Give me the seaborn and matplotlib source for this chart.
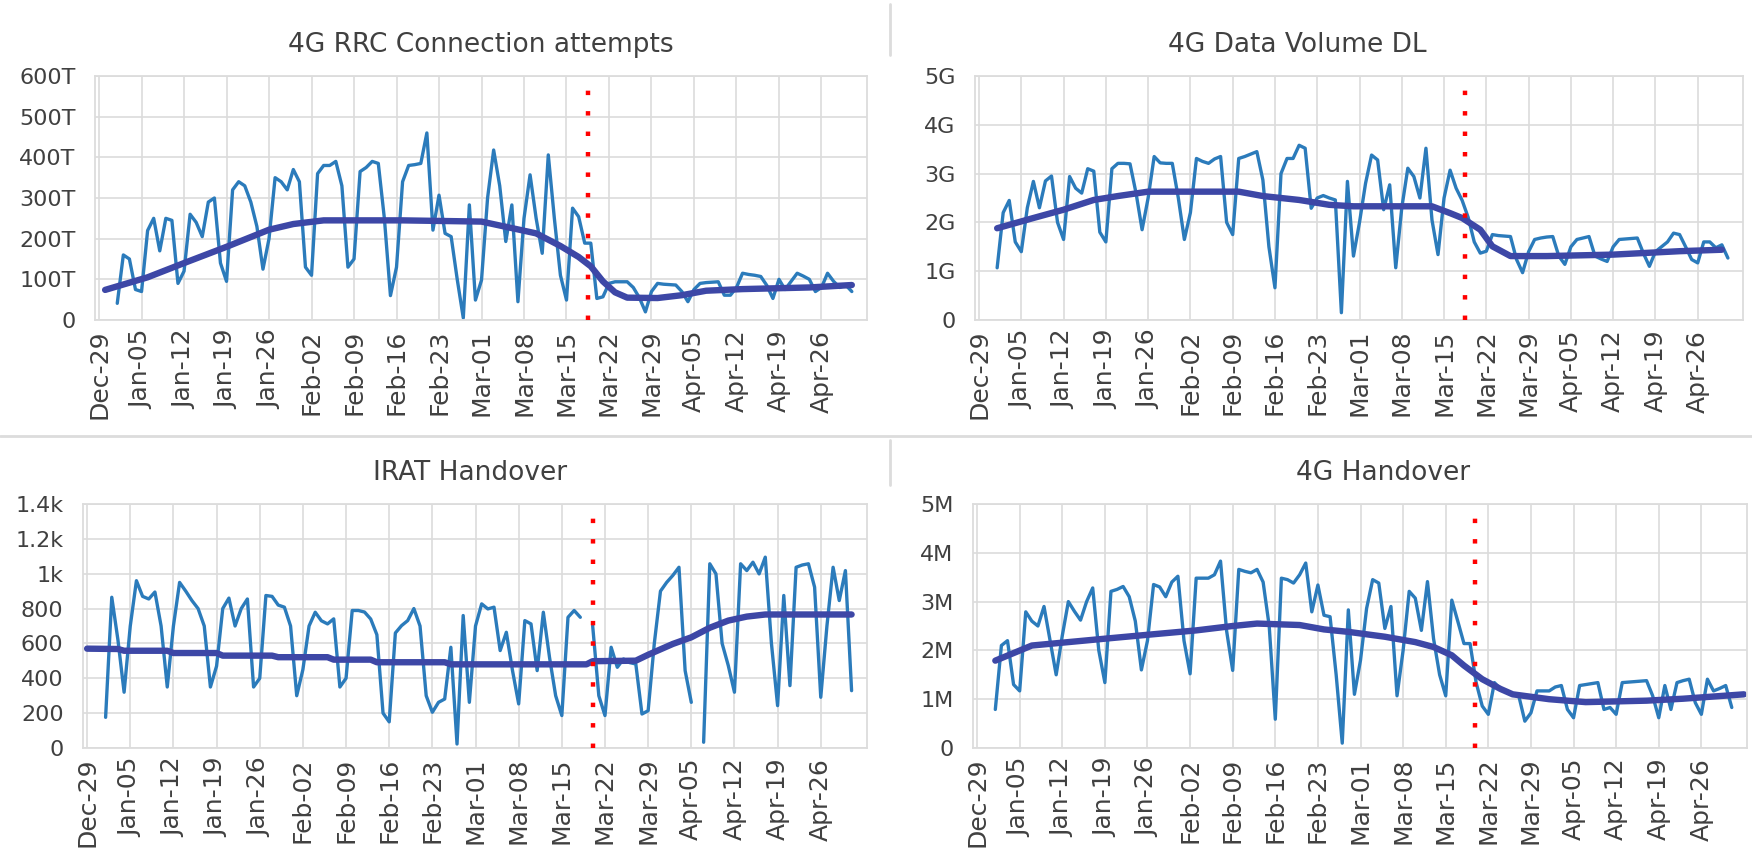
import numpy as np
import pandas as pd
import matplotlib
matplotlib.use("Agg")
import matplotlib.pyplot as plt
import seaborn as sns
from matplotlib.lines import Line2D

nan = np.nan

# x axis: weekly ticks from Dec-29, daily data from Jan-01
axis_start = pd.Timestamp("2019-12-29")
first_day = pd.Timestamp("2020-01-01")
week_ticks = pd.date_range("2019-12-29", "2020-04-26", freq="7D")

# ---- 4G RRC Connection attempts (thousands), daily ----
rrc_daily = [
    41, 160, 150, 75,
    70, 220, 250, 170, 250, 245, 90,
    120, 260, 240, 205, 290, 300, 140,
    95, 320, 340, 330, 290, 230, 125,
    200, 350, 340, 320, 370, 340, 130,
    110, 360, 380, 380, 390, 330, 130,
    150, 365, 375, 390, 385, 250, 60,
    130, 340, 380, 382, 385, 460, 221,
    307, 213, 205, 100, 5, 283, 49,
    98, 300, 418, 330, 193, 283, 45,
    250, 357, 250, 164, 406, 250, 110,
    49, 275, 254, 189, 189, 53, 57,
    90, 94, 94, 94, 80, 55, 20,
    70, 90, 88, 87, 86, 70, 45,
    75, 90, 92, 93, 94, 61, 61,
    80, 115, 112, 110, 107, 85, 53,
    100, 75, 95, 115, 108, 100, 70,
    80, 115, 95, 80, 86, 70,
]
rrc_trend_day = [1, 8, 14, 21, 28, 32, 37, 50, 63, 68, 72, 76, 79, 81, 83, 85, 87, 92, 96, 100, 106, 117, 124]
rrc_trend = [74, 105, 140, 180, 222, 236, 245, 245, 242, 226, 213, 182, 155, 132, 95, 68, 55, 54, 61, 72, 76, 80, 86]

# ---- 4G Data Volume DL (G), daily ----
dv_daily = [
    1.07, 2.2, 2.45, 1.6,
    1.4, 2.3, 2.84, 2.3, 2.85, 2.95, 2.0,
    1.65, 2.94, 2.7, 2.6, 3.1, 3.05, 1.8,
    1.6, 3.1, 3.21, 3.21, 3.2, 2.6, 1.85,
    2.5, 3.35, 3.22, 3.21, 3.21, 2.5, 1.65,
    2.2, 3.31, 3.25, 3.21, 3.3, 3.35, 2.0,
    1.75, 3.31, 3.35, 3.4, 3.45, 2.87, 1.5,
    0.66, 3.0, 3.31, 3.31, 3.58, 3.52, 2.29,
    2.5, 2.55, 2.5, 2.46, 0.15, 2.84, 1.31,
    2.0, 2.8, 3.38, 3.28, 2.26, 2.77, 1.07,
    2.3, 3.11, 2.94, 2.5, 3.52, 2.05, 1.34,
    2.5, 3.07, 2.7, 2.45, 2.1, 1.6, 1.37,
    1.41, 1.75, 1.73, 1.72, 1.71, 1.24, 0.97,
    1.4, 1.65, 1.68, 1.7, 1.71, 1.31, 1.14,
    1.5, 1.65, 1.68, 1.71, 1.31, 1.25, 1.2,
    1.5, 1.65, 1.66, 1.67, 1.68, 1.37, 1.1,
    1.4, 1.5, 1.6, 1.78, 1.75, 1.5, 1.24,
    1.17, 1.6, 1.6, 1.48, 1.54, 1.27,
]
dv_trend_day = [3, 9, 14, 19, 23, 28, 43, 47, 53, 58, 62, 75, 78, 80, 83, 85, 88, 94, 105, 116, 123]
dv_trend = [1.88, 2.09, 2.26, 2.46, 2.54, 2.63, 2.63, 2.54, 2.46, 2.36, 2.33, 2.33, 2.19, 2.09, 1.85, 1.51, 1.31, 1.31, 1.34, 1.41, 1.44]

# ---- IRAT Handover, daily (gaps = missing days) ----
irat_daily = [
    176, 865, 620, 320,
    700, 960, 870, 855, 895, 700, 350,
    700, 950, 900, 846, 800, 700, 350,
    470, 800, 860, 700, 800, 855, 350,
    400, 875, 870, 820, 808, 700, 300,
    450, 700, 779, 730, 712, 741, 350,
    400, 789, 789, 780, 740, 650, 200,
    150, 660, 702, 731, 800, 700, 300,
    205, 262, 281, 578, 23, 760, 262,
    700, 827, 798, 808, 559, 664, 444,
    253, 731, 712, 444, 779, 521, 300,
    186, 750, 789, 750, nan, 702, 300,
    186, 578, 463, 511, 490, 482, 195,
    214, 600, 900, 950, 990, 1037, 444,
    262, nan, 33, 1057, 999, 600, 473,
    320, 1057, 1018, 1066, 999, 1095, 600,
    243, 875, 358, 1037, 1050, 1057, 923,
    291, 700, 1037, 846, 1018, 329,
]
irat_trend_day = [0, 5, 6, 13, 14, 21, 22, 30, 31, 39, 40, 46, 47, 58, 59, 81, 82, 89, 91, 95, 98, 101, 104, 107, 110, 124]
irat_trend = [570, 568, 558, 558, 545, 545, 530, 530, 521, 521, 507, 507, 492, 492, 480, 480, 498, 501, 535, 597, 635, 690, 731, 754, 766, 766]

# ---- 4G Handover (M), daily ----
ho_daily = [
    0.79, 2.1, 2.2, 1.3,
    1.17, 2.79, 2.6, 2.5, 2.9, 2.2, 1.5,
    2.3, 3.0, 2.8, 2.62, 3.0, 3.28, 2.0,
    1.34, 3.21, 3.25, 3.31, 3.1, 2.6, 1.6,
    2.2, 3.35, 3.3, 3.1, 3.4, 3.52, 2.2,
    1.52, 3.48, 3.48, 3.48, 3.55, 3.83, 2.4,
    1.59, 3.66, 3.62, 3.59, 3.66, 3.4, 2.5,
    0.59, 3.48, 3.45, 3.38, 3.55, 3.79, 2.79,
    3.34, 2.72, 2.69, 1.5, 0.1, 2.83, 1.1,
    1.8, 2.86, 3.45, 3.38, 2.45, 2.9, 1.07,
    2.0, 3.21, 3.07, 2.41, 3.41, 2.24, 1.5,
    1.07, 3.03, 2.59, 2.14, 2.14, 1.34, 0.86,
    0.69, 1.34, 1.21, 1.15, 1.1, 1.07, 0.55,
    0.72, 1.17, 1.17, 1.17, 1.25, 1.28, 0.79,
    0.62, 1.28, 1.3, 1.32, 1.34, 0.79, 0.83,
    0.69, 1.34, 1.35, 1.36, 1.37, 1.38, 1.07,
    0.62, 1.28, 0.79, 1.34, 1.38, 1.41, 0.93,
    0.69, 1.41, 1.17, 1.22, 1.28, 0.83,
]
ho_trend_day = [3, 9, 15, 21, 28, 36, 42, 46, 53, 57, 61, 67, 72, 75, 78, 80, 83, 86, 88, 94, 100, 110, 116, 126]
ho_trend = [1.79, 2.10, 2.17, 2.24, 2.32, 2.41, 2.50, 2.55, 2.52, 2.43, 2.38, 2.28, 2.17, 2.07, 1.90, 1.69, 1.41, 1.21, 1.10, 1.00, 0.94, 0.97, 1.01, 1.10]

titles = ["4G RRC Connection attempts", "4G Data Volume DL", "IRAT Handover", "4G Handover"]
ytick_vals = [
    [0, 100, 200, 300, 400, 500, 600],
    [0, 1, 2, 3, 4, 5],
    [0, 200, 400, 600, 800, 1000, 1200, 1400],
    [0, 1, 2, 3, 4, 5],
]
ytick_labels = [
    ["0", "100T", "200T", "300T", "400T", "500T", "600T"],
    ["0", "1G", "2G", "3G", "4G", "5G"],
    ["0", "200", "400", "600", "800", "1k", "1.2k", "1.4k"],
    ["0", "1M", "2M", "3M", "4M", "5M"],
]
event_dates = ["2020-03-18 12:00", "2020-03-18 12:00", "2020-03-20 00:00", "2020-03-19 18:00"]

daily_sets = [rrc_daily, dv_daily, irat_daily, ho_daily]
trend_days = [rrc_trend_day, dv_trend_day, irat_trend_day, ho_trend_day]
trend_sets = [rrc_trend, dv_trend, irat_trend, ho_trend]

# layout (figure fractions) and title placement
W, H = 1752, 852
boxes_px = [(95, 76, 867, 320), (975, 76, 1743, 320), (83, 504, 867, 748), (973, 504, 1747, 748)]
title_x = [0.5, 0.42, 0.494, 0.53]

LIGHT = "#2b7bbb"
DARK = "#3d47a6"
GRID = "#dcdcdc"
TEXT = "#404040"

sns.set_theme(style="whitegrid")
plt.rcParams["font.family"] = ["DejaVu Sans"]

fig = plt.figure(figsize=(W / 100, H / 100), dpi=100)
fig.patch.set_facecolor("white")

for i in range(4):
    x0, y0, x1, y1 = boxes_px[i]
    ax = fig.add_axes([x0 / W, 1 - y1 / H, (x1 - x0) / W, (y1 - y0) / H])

    vals = daily_sets[i]
    dates = pd.date_range(first_day, periods=len(vals), freq="D")
    df = pd.DataFrame({"date": dates, "value": vals})
    # break the line where a day is missing
    df["seg"] = df["value"].isna().cumsum()
    df = df.dropna()
    sns.lineplot(data=df, x="date", y="value", units="seg", estimator=None,
                 color=LIGHT, linewidth=2.4, ax=ax)

    tr = pd.DataFrame({
        "date": axis_start + pd.to_timedelta(trend_days[i], unit="D"),
        "value": trend_sets[i],
    })
    sns.lineplot(data=tr, x="date", y="value", color=DARK, linewidth=4.6,
                 solid_capstyle="round", ax=ax)

    ax.axvline(pd.Timestamp(event_dates[i]), color="red", linewidth=3.2,
               linestyle=(0, (1, 3.6)), dash_capstyle="butt", zorder=5)

    ax.set_xlim(axis_start - pd.Timedelta(hours=16), axis_start + pd.Timedelta(days=126.5))
    ax.set_ylim(ytick_vals[i][0], ytick_vals[i][-1])
    ax.set_yticks(ytick_vals[i])
    ax.set_yticklabels(ytick_labels[i])
    ax.set_xticks(week_ticks)
    ax.set_xticklabels([d.strftime("%b-%d") for d in week_ticks], rotation=90)

    ax.set_xlabel("")
    ax.set_ylabel("")
    ax.set_facecolor("white")
    ax.grid(True, color=GRID, linewidth=1.2)
    for sp in ax.spines.values():
        sp.set_visible(True)
        sp.set_color(GRID)
        sp.set_linewidth(1.3)
    ax.tick_params(axis="y", length=0, pad=14, labelsize=16, labelcolor=TEXT)
    ax.tick_params(axis="x", length=0, pad=7, labelsize=18, labelcolor=TEXT)
    ax.set_title(titles[i], fontsize=19, color=TEXT, pad=17, x=title_x[i])

# chart frame separators
fig.add_artist(Line2D([0, 1], [1 - 436 / H, 1 - 436 / H], transform=fig.transFigure,
                      color=GRID, linewidth=2))
fig.add_artist(Line2D([890 / W, 890 / W], [1 - 4 / H, 1 - 55 / H], transform=fig.transFigure,
                      color=GRID, linewidth=2))
fig.add_artist(Line2D([890 / W, 890 / W], [1 - 440 / H, 1 - 485 / H], transform=fig.transFigure,
                      color=GRID, linewidth=2))

fig.savefig("out.png", dpi=100, facecolor="white")
